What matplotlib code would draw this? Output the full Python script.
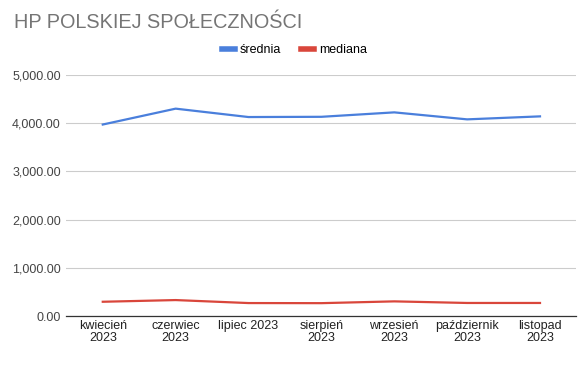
import matplotlib.pyplot as plt
from matplotlib.ticker import FuncFormatter

plt.rcParams['font.family'] = ['Liberation Sans', 'DejaVu Sans']

months = ["kwiecień\n2023", "czerwiec\n2023", "lipiec 2023", "sierpień\n2023",
          "wrzesień\n2023", "październik\n2023", "listopad\n2023"]
srednia = [3970, 4299, 4125, 4130, 4222, 4077, 4139]
mediana = [297, 332, 270, 268, 305, 272, 272]

fig = plt.figure(figsize=(5.87, 3.65), dpi=100)
ax = fig.add_axes([0.113, 0.134, 0.869, 0.661])

x = range(len(months))
ax.plot(x, srednia, color="#4a7fdc", lw=1.6, label="średnia")
ax.plot(x, mediana, color="#d9463b", lw=1.6, label="mediana")

ax.set_xlim(-0.5, len(months) - 0.5)
ax.set_ylim(0, 5000)
ax.set_yticks([0, 1000, 2000, 3000, 4000, 5000])
ax.yaxis.set_major_formatter(FuncFormatter(lambda v, p: f"{v:,.2f}"))
ax.set_xticks(list(x))
ax.set_xticklabels(months, fontsize=9, color="#222222", linespacing=0.95)
ax.tick_params(axis="y", labelsize=9, labelcolor="#444444", length=0, pad=4)
ax.tick_params(axis="x", length=0, pad=3)

ax.grid(axis="y", color="#cccccc", lw=0.8)
ax.set_axisbelow(True)
for s in ["top", "right", "left"]:
    ax.spines[s].set_visible(False)
ax.spines["bottom"].set_color("#333333")
ax.spines["bottom"].set_linewidth(0.9)

fig.text(0.024, 0.937, "HP POLSKIEJ SPOŁECZNOŚCI", fontsize=14.3, color="#757575", va="center")
fig.legend(loc="center", bbox_to_anchor=(0.502, 0.862), ncol=2, frameon=False,
           fontsize=9, handlelength=1.0, handletextpad=0.4, columnspacing=1.6)
for h in fig.legends[0].get_lines():
    h.set_linewidth(4)

fig.savefig("out.png", dpi=100)
